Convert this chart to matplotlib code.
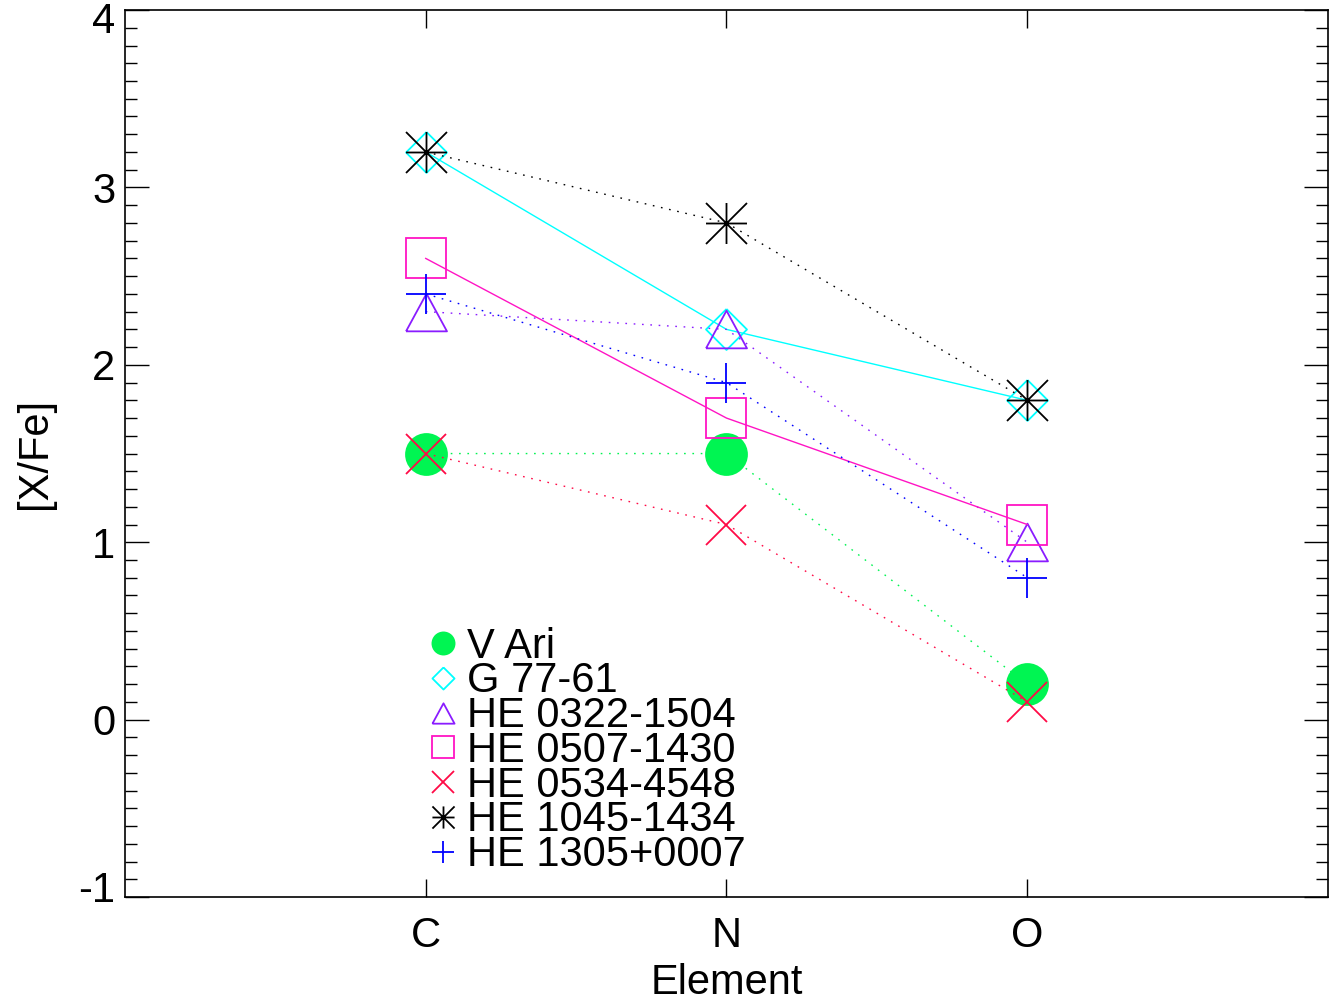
import matplotlib
matplotlib.use('Agg')
import matplotlib.pyplot as plt
from matplotlib.lines import Line2D
from matplotlib.path import Path
from matplotlib.ticker import MultipleLocator
from matplotlib.transforms import ScaledTranslation

plt.rcParams['font.family'] = ['Liberation Sans', 'DejaVu Sans']

elements = ['C', 'N', 'O']
xpos = [1, 2, 3]
yticks = [-1, 0, 1, 2, 3, 4]
ytick_labels = ['-1', '0', '1', '2', '3', '4']

stars = ['V Ari', 'G 77-61', 'HE 0322-1504', 'HE 0507-1430',
         'HE 0534-4548', 'HE 1045-1434', 'HE 1305+0007']
v_ari = [1.5, 1.5, 0.2]
g77_61 = [3.2, 2.2, 1.8]
he0322 = [2.3, 2.2, 1.0]
he0507 = [2.6, 1.7, 1.1]
he0534 = [1.5, 1.1, 0.1]
he1045 = [3.2, 2.8, 1.8]
he1305 = [2.4, 1.9, 0.8]
values = [v_ari, g77_61, he0322, he0507, he0534, he1045, he1305]

# marker shapes (IDL-like)
diamond = [(0, 1), (1, 0), (0, -1), (-1, 0), (0, 1)]
triangle = [(-1, -0.92), (1, -0.92), (0, 0.92), (-1, -0.92)]
asterisk = Path([(-1, 0), (1, 0), (0, -1), (0, 1), (-1, -1), (1, 1), (-1, 1), (1, -1)],
                [Path.MOVETO, Path.LINETO] * 4)

dotted = (0, (1.2, 4.8))
styles = [
    dict(color='#00f552', marker='o', mfc='#00f552', ls=dotted),
    dict(color='#00ffff', marker=diamond, mfc='none', ls='-'),
    dict(color='#8a1cff', marker=triangle, mfc='none', ls=dotted),
    dict(color='#ff14c4', marker='s', mfc='none', ls='-'),
    dict(color='#ff0a46', marker='x', mfc='none', ls=dotted),
    dict(color='black', marker=asterisk, mfc='none', ls=dotted),
    dict(color='#0000ff', marker='+', mfc='none', ls=dotted),
]

fig = plt.figure(figsize=(13.42, 10.06), dpi=100)
ax = fig.add_axes([0.0931, 0.1083, 0.8965, 0.8817])

handles = []
for name, vals, st in zip(stars, values, styles):
    ms = 29.5
    ax.plot(xpos, vals, color=st['color'], ls=st['ls'], lw=1.0,
            marker=st['marker'], ms=ms, mfc=st['mfc'], mec=st['color'], mew=1.3)
    handles.append(Line2D([], [], ls='none', marker=st['marker'], ms=ms,
                          mfc=st['mfc'], mec=st['color'], mew=1.3, color=st['color'],
                          label=name))

ax.set_xlim(0, 4)
ax.set_ylim(-1, 4)
ax.set_xticks(xpos)
ax.set_xticklabels(elements)
ax.set_yticks(yticks)
ax.set_yticklabels(ytick_labels)
ax.yaxis.set_minor_locator(MultipleLocator(0.1))

ax.tick_params(axis='x', which='major', direction='in', length=13, width=1,
               top=True, labelsize=30, pad=14)
ax.tick_params(axis='y', which='major', direction='in', length=17, width=1,
               right=True, labelsize=30, pad=7)
ax.tick_params(axis='y', which='minor', direction='in', length=8.6, width=1,
               right=True)
for sp in ax.spines.values():
    sp.set_linewidth(1.2)

ax.set_xlabel('Element', fontsize=30, labelpad=5)
ax.set_ylabel('[X/Fe]', fontsize=30)
ax.yaxis.set_label_coords(-0.058, 0.5)

# nudge the end labels inward like IDL does
for t in ax.yaxis.get_major_ticks():
    txt = t.label1.get_text()
    if txt == '4':
        t.label1.set_transform(t.label1.get_transform() +
                               ScaledTranslation(0, -0.07, fig.dpi_scale_trans))
    elif txt == '-1':
        t.label1.set_transform(t.label1.get_transform() +
                               ScaledTranslation(0, 0.11, fig.dpi_scale_trans))

ax.legend(handles=handles, loc='upper left', bbox_to_anchor=(0.2552, 0.305),
          frameon=False, fontsize=30, markerscale=0.54, handlelength=0.55,
          handletextpad=0.3, labelspacing=-0.125, borderpad=0, borderaxespad=0)

fig.savefig('out.png', dpi=100)
